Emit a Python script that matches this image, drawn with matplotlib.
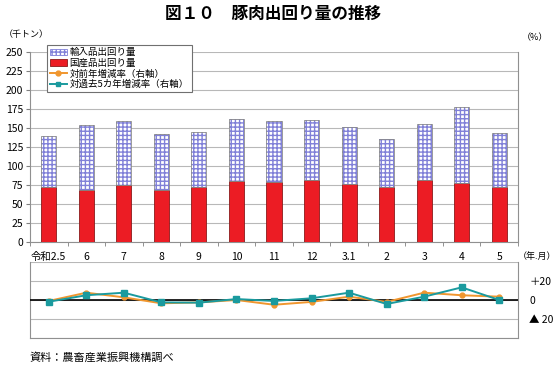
import matplotlib
matplotlib.use("Agg")
import matplotlib.pyplot as plt
import numpy as np

plt.rcParams['font.family'] = ['Noto Sans CJK JP', 'DejaVu Sans']

categories = ["令和2.5", "6", "7", "8", "9", "10", "11", "12", "3.1", "2", "3", "4", "5"]
domestic = [73, 69, 75, 68, 72, 80, 78.5, 81, 76, 73, 82, 78, 72]
imported = [66.5, 84.5, 84, 73.5, 73, 82, 81, 80, 75.5, 63, 73.5, 99, 71]
yoy = [-1, 7.7, 2.8, -3.5, -2.5, 0, -5, -2, 3.5, -2, 7.7, 5, 3.5]
vs5yr = [-1.8, 5, 7.7, -2.5, -2.8, 1, -1, 1.8, 7.7, -4.2, 3.5, 13.3, 0]

W, H = 558, 368
fig = plt.figure(figsize=(W / 100, H / 100), dpi=100)

def fx(px):
    return px / W

def fy(py):
    return 1 - py / H

x = np.arange(len(categories))
grid_c = '#b8b8b8'

# Top axes (bars)
ax = fig.add_axes([fx(30), fy(242), fx(518 - 30), fy(52) - fy(242)])
ax.bar(x, domestic, width=0.4, color='#ec1c24', edgecolor='#8a1a1a', linewidth=0.6, zorder=3)
ax.bar(x, imported, bottom=domestic, width=0.4, color='white', edgecolor='#8080d8',
       hatch='++++', linewidth=0, zorder=3)
ax.bar(x, imported, bottom=domestic, width=0.4, fill=False, edgecolor='#8a8a8a',
       linewidth=0.6, zorder=4)
ax.set_xlim(-0.5, len(categories) - 0.5)
ax.set_ylim(0, 250)
ax.set_yticks(np.arange(0, 251, 25))
ax.yaxis.grid(True, color=grid_c, linewidth=0.8, zorder=0)
ax.set_axisbelow(True)
ax.set_xticks(x)
ax.set_xticklabels(categories, fontsize=7.5)
ax.set_xticks(np.arange(-0.5, len(categories) + 0.5, 1), minor=True)
ax.tick_params(axis='x', which='major', length=0, pad=7)
ax.tick_params(axis='x', which='minor', length=3, color='#808080', direction='out')
ax.tick_params(axis='y', length=3, color='#808080', labelsize=7.5, pad=2)
ax.spines['top'].set_visible(False)
for s in ['left', 'right', 'bottom']:
    ax.spines[s].set_color('#909090')
    ax.spines[s].set_linewidth(0.8)

# Legend
from matplotlib.patches import Patch
from matplotlib.lines import Line2D
handles = [
    Patch(facecolor='white', edgecolor='#8080d8', hatch='++++', linewidth=0.6),
    Patch(facecolor='#ec1c24', edgecolor='#8a1a1a', linewidth=0.6),
    Line2D([0], [0], color='#f0962e', marker='o', markersize=3.5, linewidth=1.4),
    Line2D([0], [0], color='#1a9a9e', marker='s', markersize=3.5, linewidth=1.4),
]
labels = ['輸入品出回り量', '国産品出回り量', '対前年増減率（右軸）', '対過去5カ年増減率（右軸）']
leg = ax.legend(handles, labels, loc='upper left', bbox_to_anchor=(17 / 488, 1.035),
                fontsize=6.8, frameon=True, fancybox=False, edgecolor='#707070', framealpha=1,
                handlelength=1.8, handleheight=0.7, handletextpad=0.3, labelspacing=0.15,
                borderpad=0.3, borderaxespad=0)
leg.get_frame().set_linewidth(0.8)

# Bottom axes (rates)
ax2 = fig.add_axes([fx(30), fy(338), fx(518 - 30), fy(262) - fy(338)])
ax2.plot(x, yoy, color='#f0962e', marker='o', markersize=3.5, linewidth=1.4, zorder=4)
ax2.plot(x, vs5yr, color='#1a9a9e', marker='s', markersize=4.2, linewidth=1.4, zorder=5)
ax2.axhline(0, color='black', linewidth=1.2, zorder=3)
ax2.set_xlim(-0.5, len(categories) - 0.5)
ax2.set_ylim(-40, 40)
ax2.set_yticks([-40, -20, 0, 20, 40])
ax2.yaxis.grid(True, color=grid_c, linewidth=0.8, zorder=0)
ax2.yaxis.tick_right()
ax2.set_yticklabels(['', '▲ 20', '0', '＋20', ''], fontsize=7.5)
ax2.tick_params(axis='y', length=0, pad=8)
ax2.set_xticks([])
ax2.spines['top'].set_visible(False)
for s in ['left', 'right', 'bottom']:
    ax2.spines[s].set_color('#909090')
    ax2.spines[s].set_linewidth(0.8)

# Texts
fig.text(fx(273), fy(14), '図１０　豚肉出回り量の推移', ha='center', va='center', fontsize=12, fontweight='bold')
fig.text(fx(4), fy(34), '（千トン）', ha='left', va='center', fontsize=6.5)
fig.text(fx(522), fy(38), '（%）', ha='left', va='center', fontsize=6.5)
fig.text(fx(518), fy(256), '（年.月）', ha='left', va='center', fontsize=6.5)
fig.text(fx(30), fy(357), '資料：農畜産業振興機構調べ', ha='left', va='center', fontsize=8)

fig.savefig('out.png', dpi=100)
